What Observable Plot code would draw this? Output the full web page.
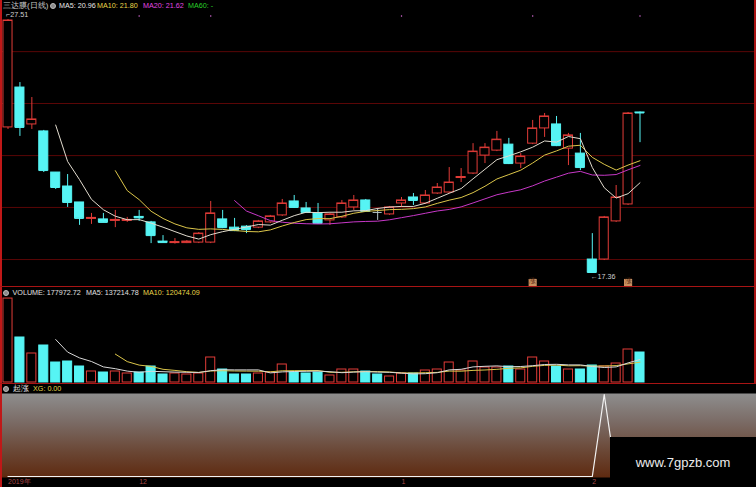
<!DOCTYPE html>
<html><head><meta charset="utf-8">
<script src="https://cdn.jsdelivr.net/npm/d3@7"></script>
<script src="https://cdn.jsdelivr.net/npm/@observablehq/plot@0.6"></script>
<style>
html,body{margin:0;padding:0;background:#000;}
#wrap{position:relative;width:756px;height:487px;background:#000;overflow:hidden;font-family:"Liberation Sans",Arial,sans-serif;}
.p{position:absolute;left:0;}
.t{position:absolute;font-size:7.2px;white-space:nowrap;line-height:1;}
.ico{position:absolute;width:6px;height:6px;border-radius:50%;background:#8a8a8a;border:0.5px solid #bbb;box-sizing:border-box;}
.hl{position:absolute;background:#a81414;}
</style></head><body><div id="wrap"></div>
<script>
// ---- data (daily candles, 三达膜) ----
const opens  = [23.18,24.78,23.30,23.02,21.37,20.81,20.17,19.51,19.49,19.43,19.43,19.59,19.37,18.60,18.54,18.54,18.56,18.56,19.49,19.16,19.20,19.16,19.37,19.65,20.21,19.93,19.73,19.45,19.57,19.97,20.25,19.77,19.69,20.13,20.37,20.13,20.53,20.57,21.15,21.33,22.05,22.25,22.49,21.73,22.53,23.14,23.30,22.33,22.13,17.88,17.88,19.41,20.09,23.78];
const highs  = [27.51,24.98,24.38,23.06,21.37,21.29,20.17,19.73,19.73,19.85,19.57,19.85,19.41,18.84,18.72,18.64,18.96,20.21,19.85,19.53,19.24,19.45,19.65,20.29,20.45,20.17,20.13,19.73,20.25,20.45,20.29,19.93,20.01,20.37,20.53,20.65,20.93,21.57,21.53,22.53,22.53,23.02,22.74,22.13,23.46,23.74,23.62,22.94,22.94,18.92,19.61,20.85,23.78,23.80];
const lows   = [23.10,22.82,23.10,21.37,20.69,19.97,19.25,19.29,19.37,19.16,19.37,19.41,18.52,18.56,18.50,18.52,18.52,18.52,19.12,19.00,18.92,19.12,19.33,19.61,19.93,19.73,19.29,19.25,19.53,19.85,19.77,19.45,19.65,19.97,20.05,20.09,20.49,20.53,20.97,21.29,21.73,22.21,21.69,21.53,22.49,22.78,22.41,21.65,21.45,17.36,17.84,19.37,20.05,22.57];
const closes = [27.47,23.18,23.50,21.45,20.77,20.17,19.53,19.55,19.37,19.47,19.47,19.55,18.84,18.56,18.58,18.60,18.92,19.73,19.16,19.04,19.08,19.41,19.61,20.13,19.97,19.77,19.33,19.69,20.13,20.25,19.81,19.77,19.97,20.25,20.25,20.45,20.77,20.97,21.19,22.21,22.37,22.69,21.73,22.01,23.14,23.62,22.45,22.86,21.57,17.36,19.57,20.37,23.74,23.76];
const volumes = [498000,267000,172000,219500,118600,124600,94900,65300,59300,65300,53400,59300,94900,47500,53400,47500,53400,148300,77100,47500,47500,53400,59300,106800,59300,53400,59300,41500,77100,77100,65300,47500,35600,53400,53400,71200,77100,118600,71200,124600,89000,89000,94900,77100,148300,124600,94900,77100,77100,100900,94900,112700,195800,177972.72];
const xg = [0,0,0,0,0,0,0,0,0,0,0,0,0,0,0,0,0,0,0,0,0,0,0,0,0,0,0,0,0,0,0,0,0,0,0,0,0,0,0,0,0,0,0,0,0,0,0,0,0,0,1,0,0,0];
const tickIndex  = [0, 11, 33, 49];
const tickLabels = ["2019年", "12", "1", "2"];
const topMarks = [11, 17, 33, 44, 53];
const signalIndex = [44, 52];
const priceGrid = [26.22, 24.14, 22.05, 19.97, 17.88];
const priceHeader = [["三达膜(日线)", "#c8c8c8"], ["MA5: 20.96", "#e8e8e8"], ["MA10: 21.80", "#e8d84a"], ["MA20: 21.62", "#e048e0"], ["MA60: -", "#28d028"]];
const volHeader = [["VOLUME: 177972.72", "#e0e0e0"], ["MA5: 137214.78", "#e0e0e0"], ["MA10: 120474.09", "#e8d84a"]];
const xgHeader = [["起涨", "#e0e0e0"], ["XG: 0.00", "#e8d84a"]];

// ---- build ----
const RED = "#e23c38", CYAN = "#56f4f4", DOJI = "#b8c8c8";
const MA5C = "#e2dccf", MA10C = "#dcc64a", MA20C = "#c838c8";
const rows = d3.range(closes.length).map(i => ({i, o: opens[i], h: highs[i], l: lows[i], c: closes[i], v: volumes[i], xg: xg[i]}));
const kColor = d => d.c > d.o ? RED : d.c < d.o ? CYAN : DOJI;
const vColor = d => d.c > d.o ? RED : CYAN;
const X = {type: "linear", domain: [0, closes.length - 1], range: [7.5, 639.5], axis: null};
const W = 0.38;
const wrap = document.getElementById("wrap");

function place(svg, top) { svg.classList.add("p"); svg.style.top = top + "px"; wrap.appendChild(svg); }
function text(str, color, left, cy, size) {
  const s = document.createElement("span"); s.className = "t"; s.textContent = str;
  s.style.color = color; s.style.left = left + "px";
  const fs = size || 7.2; s.style.fontSize = fs + "px"; s.style.top = (cy - fs / 2) + "px";
  wrap.appendChild(s);
}
function icon(left, cy) { const d = document.createElement("div"); d.className = "ico"; d.style.left = left + "px"; d.style.top = (cy - 3) + "px"; wrap.appendChild(d); }
function hline(left, top, w, h, color) { const d = document.createElement("div"); d.className = "hl"; Object.assign(d.style, {left: left + "px", top: top + "px", width: w + "px", height: h + "px"}); if (color) d.style.background = color; wrap.appendChild(d); }

const hiI = d3.maxIndex(highs), loI = d3.minIndex(lows);

const price = Plot.plot({
  width: 756, height: 286, margin: 0,
  style: {background: "transparent", overflow: "visible"},
  x: X,
  y: {domain: [17.36, 27.51], range: [272, 19], axis: null},
  color: {type: "identity"},
  marks: [
    Plot.ruleY(priceGrid, {stroke: "#5a0606", strokeWidth: 1}),
    Plot.ruleX(rows, {x: "i", y1: "l", y2: "h", stroke: kColor, strokeWidth: 1}),
    Plot.rect(rows, {x1: d => d.i - W, x2: d => d.i + W, y1: "o", y2: "c", fill: d => d.c > d.o ? "#000" : kColor(d), stroke: kColor, strokeWidth: 1}),
    Plot.ruleY(rows, {y: "c", x1: d => d.i - W, x2: d => d.i + W, stroke: kColor, strokeWidth: 1}),
    Plot.lineY(rows, Plot.windowY({k: 20, anchor: "end", strict: true}, {x: "i", y: "c", stroke: MA20C, strokeWidth: 1})),
    Plot.lineY(rows, Plot.windowY({k: 10, anchor: "end", strict: true}, {x: "i", y: "c", stroke: MA10C, strokeWidth: 1})),
    Plot.lineY(rows, Plot.windowY({k: 5, anchor: "end", strict: true}, {x: "i", y: "c", stroke: MA5C, strokeWidth: 1})),
    Plot.text([hiI], {x: d => d, y: d => highs[d], text: d => "⌐" + highs[d].toFixed(2), textAnchor: "start", dx: -2, dy: -5, fill: "#d0d0d0", fontSize: 7.2, fontFamily: "Liberation Sans"}),
    Plot.text([loI], {x: d => d, y: d => lows[d], text: d => "←" + lows[d].toFixed(2), textAnchor: "start", dx: -2, dy: 4, fill: "#d0d0d0", fontSize: 7.2, fontFamily: "Liberation Sans"}),
    Plot.ruleX(topMarks, {x: d => d, y1: 27.60, y2: 27.66, stroke: "#c060c0", strokeWidth: 1.2}),
    Plot.dot(signalIndex, {x: d => d, frameAnchor: "bottom", dy: -3.5, symbol: "square", r: 4.6, fill: "#c89060", stroke: "none"}),
    Plot.text(signalIndex, {x: d => d, frameAnchor: "bottom", dy: -3.5, text: () => "涨", fill: "#5a2a10", fontSize: 6.5})
  ]
});
place(price, 0);

const vol = Plot.plot({
  width: 756, height: 97, margin: 0,
  style: {background: "transparent", overflow: "visible"},
  x: X,
  y: {domain: [0, 177972.72], range: [96, 66], axis: null},
  color: {type: "identity"},
  marks: [
    Plot.rect(rows, {x1: d => d.i - W, x2: d => d.i + W, y1: 0, y2: "v", fill: d => d.c > d.o ? "#000" : vColor(d), stroke: vColor, strokeWidth: 1}),
    Plot.lineY(rows, Plot.windowY({k: 10, anchor: "end", strict: true}, {x: "i", y: "v", stroke: MA10C, strokeWidth: 1})),
    Plot.lineY(rows, Plot.windowY({k: 5, anchor: "end", strict: true}, {x: "i", y: "v", stroke: "#d8d8d8", strokeWidth: 1}))
  ]
});
place(vol, 286);

const ind = Plot.plot({
  width: 756, height: 104, marginTop: 10, marginBottom: 10, marginLeft: 0, marginRight: 0,
  style: {background: "transparent", overflow: "visible"},
  x: X,
  y: {domain: [0, 1], range: [93, 11], axis: null},
  marks: [
    Plot.frame({fill: "url(#xgGrad)", stroke: "none"}),
    Plot.lineY(rows, {x: "i", y: "xg", stroke: "#f2f2f2", strokeWidth: 1.2}),
    Plot.text(tickIndex, {x: d => d, frameAnchor: "bottom", dy: 6, text: (d, i) => tickLabels[i], textAnchor: "start", fill: "#a84848", fontSize: 7, fontFamily: "Liberation Sans"})
  ]
});
const defs = d3.select(ind).insert("defs", ":first-child");
const g = defs.append("linearGradient").attr("id", "xgGrad").attr("x1", 0).attr("y1", 0).attr("x2", 0).attr("y2", 1);
[[0, "#8e8e8e"], [0.35, "#7a6a64"], [0.7, "#6a4634"], [1, "#5e2a10"]].forEach(([o, c]) => g.append("stop").attr("offset", o).attr("stop-color", c));
place(ind, 383);

// frame lines
hline(0, 0, 2, 487, "#c01818");
hline(754, 0, 1.5, 383, "#a81414");
hline(0, 285.5, 756, 1, "#a81414");
hline(0, 382.5, 756, 1, "#a81414");

// headers
let xs = [3, 59, 97, 143, 188];
priceHeader.forEach(([s, c], k) => text(s, c, xs[k], 6, k === 0 ? 8 : 7.2));
icon(50, 6);
xs = [12.5, 86, 143];
icon(3, 293);
volHeader.forEach(([s, c], k) => text(s, c, xs[k], 293));
xs = [12.5, 33];
icon(3, 388.5);
xgHeader.forEach(([s, c], k) => text(s, c, xs[k], 388.5, k === 0 ? 8 : 7.2));

// watermark
const wm = document.createElement("div");
Object.assign(wm.style, {position: "absolute", left: "610px", top: "437px", width: "146px", height: "50px", background: "#000", color: "#ececec", font: "13px 'Liberation Sans', Arial, sans-serif", display: "flex", alignItems: "center", justifyContent: "center"});
wm.textContent = "www.7gpzb.com";
wrap.appendChild(wm);
</script></body></html>
